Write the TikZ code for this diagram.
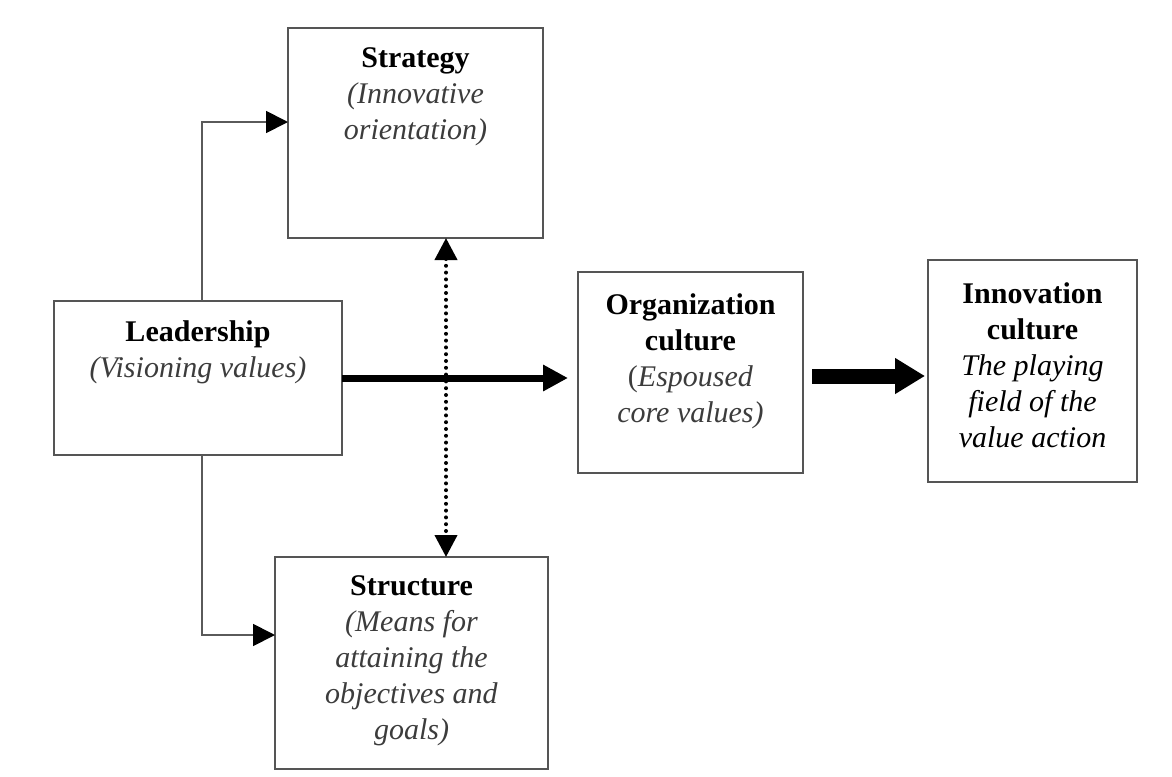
\documentclass[tikz,border=0pt]{standalone}
\usepackage{fontspec}
\setmainfont{Liberation Serif}
\usepackage{xcolor}
\usetikzlibrary{positioning}
\usetikzlibrary{arrows.meta}
\usetikzlibrary{calc}

\definecolor{boxgray}{HTML}{555555}
\definecolor{linegray}{HTML}{5A5A5A}
\definecolor{inkgray}{HTML}{3C3C3C}

\tikzset{
  box/.style={draw=boxgray, line width=1pt, inner sep=0pt, outer sep=0pt},
  txt/.style={align=center, inner sep=0pt, font=\fontsize{15}{18}\selectfont},
  branch/.style={draw=linegray, line width=0.9pt, -{Triangle[length=11pt,width=11pt,color=black]}},
  mainflow/.style={line width=3.5pt, -{Triangle[length=12.5pt,width=12.5pt]}, shorten >=5pt},
  bigflow/.style={line width=7.5pt, -{Triangle[length=15pt,width=17pt]}, shorten <=4.5pt, shorten >=1.5pt},
  dotflow/.style={line width=2pt, line cap=round, dash pattern=on 0pt off 3.4pt,
    {Triangle[length=11pt,width=11pt]}-{Triangle[length=11pt,width=11pt]}},
}

\newcommand{\desc}[1]{\textcolor{inkgray}{\textit{#1}}}

\begin{document}
\begin{tikzpicture}[x=0.5pt,y=-0.5pt]
  \useasboundingbox (0,0) rectangle (1172,776);

  % boxes
  \node[box, minimum width=127.5pt, minimum height=105pt]  (strategy)     at (415.5,133)   {};
  \node[box, minimum width=144pt,   minimum height=77pt]   (leadership)   at (198,378)     {};
  \node[box, minimum width=112.5pt, minimum height=100.5pt] (organization) at (690.5,372.5) {};
  \node[box, minimum width=104.5pt, minimum height=111pt]  (innovation)   at (1032.5,371)  {};
  \node[box, minimum width=136.5pt, minimum height=106pt]  (structure)    at (411.5,663)   {};

  % texts, hung from the top of each box
  \node[txt, below=9.5pt of strategy.north] (strategy-txt)
    {\textbf{Strategy}\\ \desc{(Innovative}\\ \desc{orientation)}};
  \node[txt, below=9.5pt of leadership.north] (leadership-txt)
    {\textbf{Leadership}\\ \desc{(Visioning values)}};
  \node[txt, below=10.5pt of organization.north] (organization-txt)
    {\textbf{Organization}\\ \textbf{culture}\\ \textcolor{inkgray}{(}\desc{Espoused}\\ \desc{core values)}};
  \node[txt, below=11pt of innovation.north] (innovation-txt)
    {\textbf{Innovation}\\ \textbf{culture}\\ \textit{The playing}\\ \textit{field of the}\\ \textit{value action}};
  \node[txt, below=9pt of structure.north] (structure-txt)
    {\textbf{Structure}\\ \desc{(Means for}\\ \desc{attaining the}\\ \desc{objectives and}\\ \desc{goals)}};

  % connectors
  \coordinate (dotx) at (446,0);
  \draw[branch] ($(leadership.north)+(4,0)$) |- ($(strategy.west)+(0,-11)$);
  \draw[branch] ($(leadership.south)+(4,0)$) |- ($(structure.west)+(0,-28)$);
  \draw[mainflow] (leadership.east) -- (leadership.east -| organization.west);
  \draw[bigflow] ($(organization.east)+(0,3.5)$) -- ($(organization.east -| innovation.west)+(0,3.5)$);
  \draw[dotflow] (strategy.south -| dotx) -- (structure.north -| dotx);

\end{tikzpicture}
\end{document}
